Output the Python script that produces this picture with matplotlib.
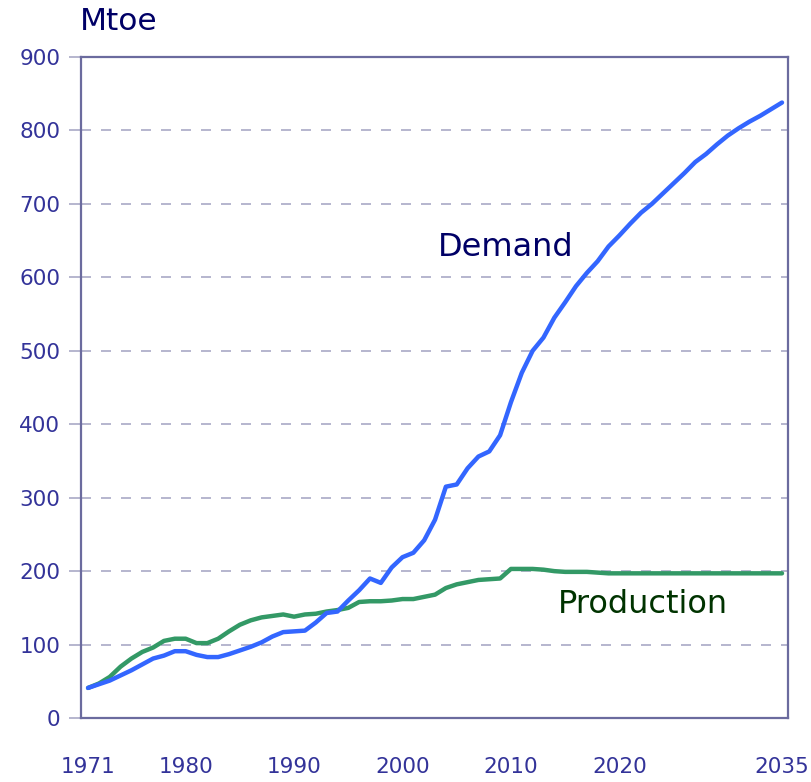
import numpy as np
import matplotlib
matplotlib.use("Agg")
import matplotlib.pyplot as plt

years = list(range(1971, 2036))

demand = [41, 46, 51, 58, 65, 73, 81, 85, 91, 91,
          86, 83, 83, 87, 92, 97, 103, 111, 117, 118,
          119, 130, 143, 145, 160, 174, 190, 184, 205, 219,
          225, 242, 270, 315, 318, 340, 356, 363, 385, 430,
          470, 500, 518, 545, 566, 588, 606, 622, 642, 657,
          673, 688, 700, 714, 728, 742, 757, 768, 781, 793,
          803, 812, 820, 829, 838]

production = [41, 47, 56, 70, 81, 90, 96, 105, 108, 108,
              102, 102, 108, 118, 127, 133, 137, 139, 141, 138,
              141, 142, 145, 147, 150, 158, 159, 159, 160, 162,
              162, 165, 168, 177, 182, 185, 188, 189, 190, 203,
              203, 203, 202, 200, 199, 199, 199, 198, 197, 197,
              197, 197, 197, 197, 197, 197, 197, 197, 197, 197,
              197, 197, 197, 197, 197]

x_ticks = [1971, 1980, 1990, 2000, 2010, 2020, 2035]
y_ticks = [0, 100, 200, 300, 400, 500, 600, 700, 800, 900]

spine_c = "#6b6b9e"
grid_c = "#a9a9c6"
tick_c = "#333399"

fig = plt.figure(figsize=(8.11, 7.82), dpi=100)
ax = fig.add_axes([0.0999, 0.0818, 0.8717, 0.8453])

ax.plot(years, production, color="#339966", lw=3.2, solid_capstyle="round")
ax.plot(years, demand, color="#3366ff", lw=3.2, solid_capstyle="round")

ax.set_xlim(1970.35, 2035.55)
ax.set_ylim(0, 900)
ax.set_xticks(x_ticks)
ax.set_yticks(y_ticks)

for v in y_ticks[1:-1]:
    ax.axhline(v, color=grid_c, lw=1.2, dashes=(6, 6), zorder=0)

for s in ax.spines.values():
    s.set_color(spine_c)
    s.set_linewidth(1.6)

ax.tick_params(axis="y", length=9, width=1.2, color=grid_c, labelsize=15.5,
               labelcolor=tick_c, pad=6)
ax.tick_params(axis="x", length=0, labelsize=15.5, labelcolor=tick_c, pad=28)

fig.text(80 / 811, 1 - 22 / 782, "Mtoe", fontsize=22.5, color="#000066",
         ha="left", va="center")
ax.text(2003.3, 640, "Demand", fontsize=23, color="#000066",
        ha="left", va="center")
ax.text(2014.3, 155, "Production", fontsize=23, color="#003300",
        ha="left", va="center")

fig.savefig("out.png", dpi=100)
